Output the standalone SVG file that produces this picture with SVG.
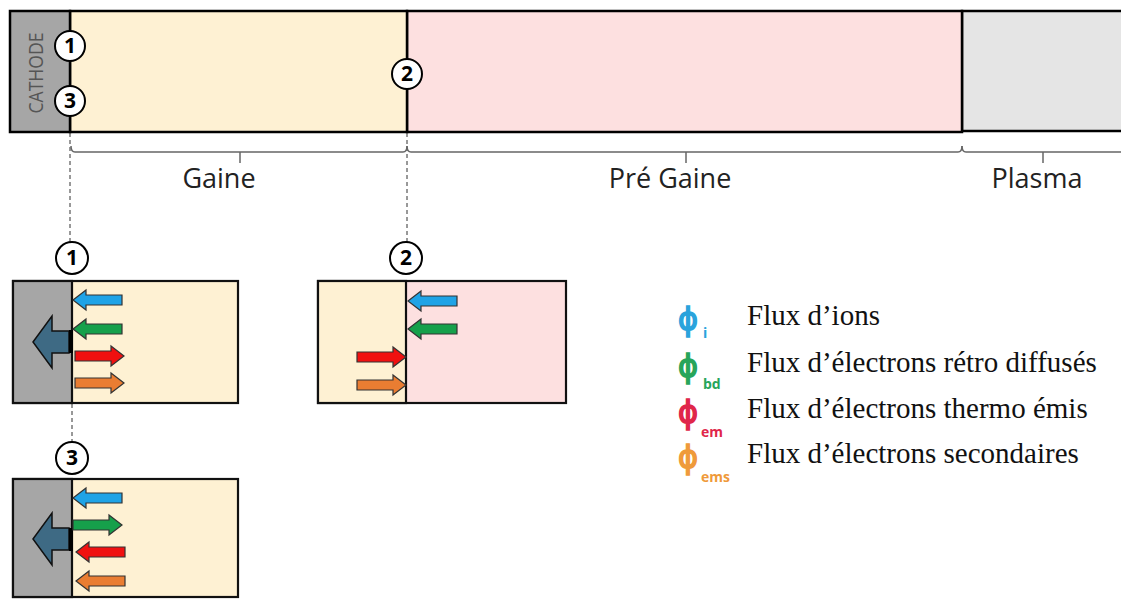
<svg xmlns="http://www.w3.org/2000/svg" width="1121" height="600" viewBox="0 0 1121 600">
<style>
.bar{stroke:#000;stroke-width:2.5}
.box{stroke:#111;stroke-width:2.2}
.div{stroke:#111;stroke-width:1.8}
.dash{stroke:#333;stroke-width:1;stroke-dasharray:4 3;fill:none}
.brk{stroke:#666;stroke-width:1.5;fill:none}
.lbl{font-family:"Open Sans",sans-serif;font-size:27px;fill:#222;text-anchor:middle}
.num circle{fill:#fff;stroke:#000;stroke-width:2}
.num text{font-family:"Open Sans",sans-serif;font-weight:bold;font-size:21px;text-anchor:middle;fill:#000}
.arr{stroke:#333;stroke-width:1.2}
.leg{font-family:"Liberation Serif",serif;font-size:29px;fill:#111}
.phi{font-family:"DejaVu Sans",sans-serif;font-size:32px;stroke-width:1.6}
.sub{font-family:"Open Sans",sans-serif;font-size:14px;font-weight:bold}
</style>
<defs>
<path id="al" d="M0,0 L13,-10 L13,-5 L49,-5 L49,5 L13,5 L13,10 Z"/>
<path id="ar" d="M0,0 L-13,-10 L-13,-5 L-49,-5 L-49,5 L-13,5 L-13,10 Z"/>
<path id="big" d="M0,0 L19,-26 L19,-11 L36,-11 L36,11 L19,11 L19,26 Z"/>
</defs>
<rect width="1121" height="600" fill="#fff"/>

<g id="top-bar">
<rect x="962" y="11" width="165" height="120" fill="#e5e5e5" class="bar"/>
<rect x="407" y="11" width="555" height="121" fill="#fde0e0" class="bar"/>
<rect x="70" y="11" width="337" height="121" fill="#fef1d3" class="bar"/>
<rect x="10" y="11" width="60" height="121" fill="#a6a6a6" class="bar"/>
<text transform="translate(43,73) rotate(-90)" font-family="Open Sans, sans-serif" font-size="20" fill="#555" text-anchor="middle" textLength="81" lengthAdjust="spacingAndGlyphs">CATHODE</text>
</g>

<g id="connectors">
<line class="dash" x1="70" y1="133" x2="70" y2="242"/>
<line class="dash" x1="407" y1="133" x2="407" y2="242"/>
<line class="dash" x1="72" y1="404" x2="72" y2="442"/>
<path class="brk" d="M71,146 Q71,152 75,152 L403,152 Q407,152 407,146"/>
<line class="brk" x1="240" y1="152" x2="240" y2="163"/>
<path class="brk" d="M407,146 Q407,152 411,152 L958,152 Q962,152 962,146"/>
<line class="brk" x1="686" y1="152" x2="686" y2="163"/>
<path class="brk" d="M962,146 Q962,152 966,152 L1121,152"/>
<line class="brk" x1="1043" y1="152" x2="1043" y2="163"/>
</g>

<g id="labels">
<text class="lbl" x="219" y="188">Gaine</text>
<text class="lbl" x="670" y="188">Pré Gaine</text>
<text class="lbl" x="1037" y="188">Plasma</text>
</g>

<g id="marker-1" class="num"><circle cx="70" cy="46" r="15"/><text x="70" y="53">1</text></g>
<g id="marker-3" class="num"><circle cx="70" cy="101" r="15"/><text x="70" y="108">3</text></g>
<g id="marker-2" class="num"><circle cx="407" cy="74" r="15"/><text x="407" y="81">2</text></g>

<g id="box-1">
<rect x="13" y="281" width="225" height="122" fill="#fef1d3" class="box"/>
<rect x="13" y="281" width="59" height="122" fill="#a6a6a6" class="box"/>
<line x1="72" y1="281" x2="72" y2="403" class="div"/>
<use href="#big" transform="translate(33,342)" fill="#3e6a84" stroke="#111" stroke-width="1.5"/>
<rect x="69" y="330" width="4" height="23" fill="#000"/>
<use href="#al" transform="translate(73,300)" fill="#1fa3e6" class="arr"/>
<use href="#al" transform="translate(73,329)" fill="#16a04b" class="arr"/>
<use href="#ar" transform="translate(124,356)" fill="#f01010" class="arr"/>
<use href="#ar" transform="translate(124,383)" fill="#ea7d32" class="arr"/>
</g>
<g id="marker-1b" class="num"><circle cx="72" cy="258" r="16"/><text x="72" y="265">1</text></g>

<g id="box-2">
<rect x="318" y="281" width="248" height="122" fill="#fde0e0" class="box"/>
<rect x="318" y="281" width="88" height="122" fill="#fef1d3" class="box"/>
<line x1="406" y1="281" x2="406" y2="403" class="div"/>
<use href="#al" transform="translate(408,301)" fill="#1fa3e6" class="arr"/>
<use href="#al" transform="translate(408,329)" fill="#16a04b" class="arr"/>
<use href="#ar" transform="translate(406,357)" fill="#f01010" class="arr"/>
<use href="#ar" transform="translate(406,385)" fill="#ea7d32" class="arr"/>
</g>
<g id="marker-2b" class="num"><circle cx="406" cy="258" r="16"/><text x="406" y="265">2</text></g>

<g id="box-3">
<rect x="13" y="479" width="225" height="118" fill="#fef1d3" class="box"/>
<rect x="13" y="479" width="59" height="118" fill="#a6a6a6" class="box"/>
<line x1="72" y1="479" x2="72" y2="597" class="div"/>
<use href="#big" transform="translate(33,539)" fill="#3e6a84" stroke="#111" stroke-width="1.5"/>
<rect x="69" y="528" width="4" height="23" fill="#000"/>
<use href="#al" transform="translate(73,498)" fill="#1fa3e6" class="arr"/>
<use href="#ar" transform="translate(122,525)" fill="#16a04b" class="arr"/>
<use href="#al" transform="translate(76,552)" fill="#f01010" class="arr"/>
<use href="#al" transform="translate(76,581)" fill="#ea7d32" class="arr"/>
</g>
<g id="marker-3b" class="num"><circle cx="72" cy="458" r="16"/><text x="72" y="465">3</text></g>

<g id="legend">
<text class="phi" transform="translate(678,330) scale(0.95,1)" fill="#2aa3dc" stroke="#2aa3dc">ϕ</text><text class="sub" x="703" y="338" fill="#2aa3dc">i</text>
<text class="leg" x="747" y="325">Flux d’ions</text>
<text class="phi" transform="translate(678,377) scale(0.95,1)" fill="#27a55a" stroke="#27a55a">ϕ</text><text class="sub" x="703" y="389" fill="#27a55a" font-size="16">bd</text>
<text class="leg" x="747" y="372">Flux d’électrons rétro diffusés</text>
<text class="phi" transform="translate(678,423) scale(0.95,1)" fill="#e0264a" stroke="#e0264a">ϕ</text><text class="sub" x="701" y="437" fill="#e0264a" font-size="18">em</text>
<text class="leg" x="747" y="418">Flux d’électrons thermo émis</text>
<text class="phi" transform="translate(678,468) scale(0.95,1)" fill="#ef9a3a" stroke="#ef9a3a">ϕ</text><text class="sub" x="701" y="482" fill="#ef9a3a" font-size="15">ems</text>
<text class="leg" x="747" y="463">Flux d’électrons secondaires</text>
</g>
</svg>
